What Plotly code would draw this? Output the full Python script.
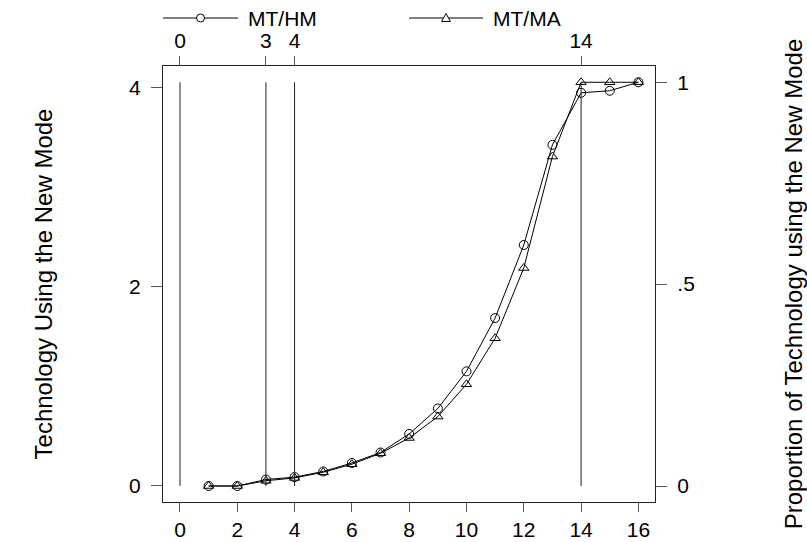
import plotly.graph_objects as go

years = list(range(1, 17))
mt_hm = [0.0, 0.0, 0.016, 0.022, 0.036, 0.057, 0.083, 0.129, 0.192, 0.284,
         0.416, 0.597, 0.845, 0.974, 0.979, 1.0]
mt_ma = [0.0, 0.0, 0.013, 0.020, 0.034, 0.054, 0.081, 0.119, 0.172, 0.252,
         0.366, 0.540, 0.816, 1.0, 1.0, 1.0]
event_years = [0, 3, 4, 14]
bottom_ticks = [0, 2, 4, 6, 8, 10, 12, 14, 16]
left_ticks = [0, 2, 4]
right_ticks = [0, 0.5, 1]
right_ticktext = ["0", ".5", "1"]

FONT = "Liberation Sans, Arial, sans-serif"
FS = 21
TFS = 24
AX = "#222222"
TK = "#555555"

fig = go.Figure()

# vertical reference lines at event years (proportion 0..1)
vx, vy = [], []
for e in event_years:
    vx += [e, e, None]
    vy += [0, 1, None]
fig.add_trace(go.Scatter(x=vx, y=vy, xaxis="x2", yaxis="y2", mode="lines",
                         line=dict(color="#222222", width=1),
                         showlegend=False, hoverinfo="skip"))

# dummy trace so the left axis exists
fig.add_trace(go.Scatter(x=[None], y=[None], xaxis="x", yaxis="y",
                         showlegend=False, hoverinfo="skip"))

fig.add_trace(go.Scatter(x=years, y=mt_hm, xaxis="x", yaxis="y2", name="MT/HM",
                         mode="lines+markers",
                         line=dict(color="black", width=1),
                         marker=dict(symbol="circle-open", size=9, color="black",
                                     line=dict(width=1, color="black")),
                         showlegend=False))
fig.add_trace(go.Scatter(x=years, y=mt_ma, xaxis="x", yaxis="y2", name="MT/MA",
                         mode="lines+markers",
                         line=dict(color="black", width=1),
                         marker=dict(symbol="triangle-up-open", size=9, color="black",
                                     line=dict(width=1, color="black")),
                         showlegend=False))

xr = [-0.593, 16.58]
common_x = dict(range=xr, showgrid=False, zeroline=False, ticks="outside",
                ticklen=9, tickcolor=TK, tickwidth=1.2, showline=True,
                linecolor=AX, linewidth=1.2, automargin=False,
                tickfont=dict(family=FONT, size=FS, color="black"))

fig.update_layout(
    width=807, height=542,
    margin=dict(l=163, r=152, t=66, b=40),
    paper_bgcolor="white", plot_bgcolor="white",
    font=dict(family=FONT, size=FS, color="black"),
    showlegend=False,
    xaxis=dict(**common_x, tickvals=bottom_ticks),
    xaxis2=dict(**common_x, tickvals=event_years, overlaying="x", side="top",
                anchor="y"),
    yaxis=dict(range=[-0.161, 4.22], tickvals=left_ticks, showgrid=False,
               zeroline=False, ticks="outside", ticklen=11, tickcolor=TK,
               tickwidth=1.2, showline=True, linecolor=AX, linewidth=1.2,
               ticklabelstandoff=6, automargin=False,
               tickfont=dict(family=FONT, size=FS, color="black"),
               title=dict(text="Technology Using the New Mode", standoff=69,
                          font=dict(family=FONT, size=TFS))),
    yaxis2=dict(range=[-0.0396, 1.0403], tickvals=right_ticks,
                ticktext=right_ticktext, overlaying="y", side="right",
                anchor="x", showgrid=False, zeroline=False, ticks="outside",
                ticklen=11, tickcolor=TK, tickwidth=1.2, showline=True,
                linecolor=AX, linewidth=1.2, ticklabelstandoff=6,
                automargin=False,
                tickfont=dict(family=FONT, size=FS, color="black"),
                title=dict(text="Proportion of Technology using the New Mode",
                           standoff=96, font=dict(family=FONT, size=TFS))),
)

# custom legend (line with marker + label) above the plot
pw, ph = 492.0, 436.0
def px(x):
    return (x - 163) / pw
def py(y):
    return (502 - y) / ph

legend_items = [("MT/HM", 163, 238, "circle"), ("MT/MA", 409, 483, "triangle")]
for label, x0, x1, sym in legend_items:
    yc = 18
    fig.add_shape(type="line", xref="paper", yref="paper",
                  x0=px(x0), x1=px(x1), y0=py(yc), y1=py(yc),
                  line=dict(color="black", width=1))
    cx = (x0 + x1) / 2
    r = 4
    if sym == "circle":
        fig.add_shape(type="circle", xref="paper", yref="paper",
                      x0=px(cx - r), x1=px(cx + r), y0=py(yc - r), y1=py(yc + r),
                      line=dict(color="black", width=1), fillcolor="white")
    else:
        path = "M {:.4f},{:.4f} L {:.4f},{:.4f} L {:.4f},{:.4f} Z".format(
            px(cx), py(yc - 4.5), px(cx - 4.5), py(yc + 3.5), px(cx + 4.5), py(yc + 3.5))
        fig.add_shape(type="path", xref="paper", yref="paper", path=path,
                      line=dict(color="black", width=1), fillcolor="white")
    fig.add_annotation(xref="paper", yref="paper", x=px(x1 + 8), y=py(yc),
                       text=label, showarrow=False, xanchor="left", yanchor="middle",
                       font=dict(family=FONT, size=FS, color="black"))

fig.write_html("out.html", config={"displayModeBar": False},
               post_script="document.body.style.margin='0';document.body.style.overflow='hidden';")
